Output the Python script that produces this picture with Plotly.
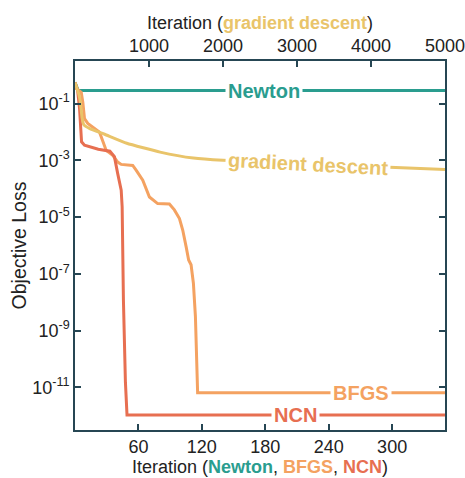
import plotly.graph_objects as go

# ---- data ----
newton_iter = [0, 3, 350]
newton_loss = [0.56, 0.286, 0.286]

bfgs_iter = [0, 1.1, 5.9, 7.4, 9.0, 12.1, 23.2, 26.3, 29.5, 35.7, 40.4, 43.7, 54.6, 57.8,
             64.1, 70.4, 78.2, 89.3, 94.0, 98.8, 101.9, 105.1, 107.5, 109.8, 112.0, 113.9,
             115.1, 116.0, 350]
bfgs_loss = [0.55, 0.34, 0.25, 0.112, 0.0295, 0.020, 9.8e-3, 5.0e-3, 2.24e-3, 1.5e-3, 8.7e-4,
             7.2e-4, 6.6e-4, 4.5e-4, 2.0e-4, 5.1e-5, 3.0e-5, 2.9e-5, 1.8e-5, 8.9e-6, 3.5e-6,
             9.1e-7, 3.1e-7, 2.1e-7, 4.7e-8, 3.2e-9, 2.1e-10, 6.5e-12, 6.5e-12]

ncn_iter = [0, 2.5, 4.3, 6.2, 9, 22, 33, 37.3, 40.4, 43.7, 44.6, 45.2, 45.8, 47.7, 49.2, 350]
ncn_loss = [0.55, 0.288, 0.066, 4.5e-3, 3.4e-3, 2.45e-3, 2.1e-3, 1.35e-3, 3.4e-4, 8.9e-5,
            2.3e-5, 3.2e-7, 1.2e-8, 1.5e-11, 1.07e-12, 1.07e-12]

gd_iter = [0, 25, 50, 75, 95, 120, 200, 400, 700, 1150, 1600, 2000, 2500, 3000, 3500,
           4000, 4500, 5000]
gd_loss = [0.55, 0.347, 0.224, 0.1, 0.0316, 0.0178, 0.0132, 8.3e-3, 4.0e-3, 1.95e-3,
           1.2e-3, 1.0e-3, 8.9e-4, 7.8e-4, 6.9e-4, 6.0e-4, 5.4e-4, 4.8e-4]

bottom_ticks = [60, 120, 180, 240, 300]
top_ticks = [1000, 2000, 3000, 4000, 5000]
y_tick_exps = [-1, -3, -5, -7, -9, -11]
y_tick_text = ["10<sup>%d</sup>" % e for e in y_tick_exps]

# ---- style ----
C_NEWTON = "#2a9d8f"
C_GD = "#e9c46a"
C_BFGS = "#f4a261"
C_NCN = "#e76f51"
C_AX = "#264653"
FONT = "Liberation Sans"
TXT = "#222222"

fig = go.Figure()
fig.add_trace(go.Scatter(x=gd_iter, y=gd_loss, xaxis="x2", yaxis="y", mode="lines",
                         line=dict(color=C_GD, width=3, shape="spline", smoothing=0.4)))
fig.add_trace(go.Scatter(x=newton_iter, y=newton_loss, mode="lines",
                         line=dict(color=C_NEWTON, width=3)))
fig.add_trace(go.Scatter(x=bfgs_iter, y=bfgs_loss, mode="lines",
                         line=dict(color=C_BFGS, width=3)))
fig.add_trace(go.Scatter(x=ncn_iter, y=ncn_loss, mode="lines",
                         line=dict(color=C_NCN, width=3)))

def label(text, x, y, color, xref="x", angle=0):
    fig.add_annotation(x=x, y=y, xref=xref, yref="y", text="<b>%s</b>" % text,
                       showarrow=False, textangle=angle, bgcolor="white", borderpad=2,
                       font=dict(family=FONT, size=20, color=color))

label("Newton", 178.6, -0.544, C_NEWTON)
label("gradient descent", 3143, -3.12, C_GD, xref="x2", angle=3)
label("BFGS", 270.2, -11.19, C_BFGS)
label("NCN", 208.8, -11.97, C_NCN)

axis_common = dict(showline=True, linecolor=C_AX, linewidth=1.5, ticks="inside",
                   ticklen=6, tickwidth=1.5, tickcolor=C_AX, showgrid=False,
                   zeroline=False, automargin=False, ticklabeloverflow="allow",
                   tickfont=dict(family=FONT, size=18, color=TXT))

fig.update_layout(
    width=465, height=478,
    margin=dict(l=75, r=20, t=61, b=48),
    paper_bgcolor="white", plot_bgcolor="white",
    showlegend=False,
    xaxis=dict(range=[0, 350], tickvals=bottom_ticks, side="bottom", anchor="y",
               title=dict(text="Iteration (<span style='color:%s'><b>Newton</b></span>, "
                               "<span style='color:%s'><b>BFGS</b></span>, "
                               "<span style='color:%s'><b>NCN</b></span>)" % (C_NEWTON, C_BFGS, C_NCN),
                          font=dict(family=FONT, size=18, color=TXT), standoff=2),
               **axis_common),
    xaxis2=dict(range=[0, 5000], tickvals=top_ticks, side="top", overlaying="x", anchor="y",
                title=dict(text="Iteration (<span style='color:%s'><b>gradient descent</b></span>)" % C_GD,
                           font=dict(family=FONT, size=18, color=TXT), standoff=2),
                **axis_common),
    yaxis=dict(type="log", range=[-12.5, 0.5], tickvals=[10.0 ** e for e in y_tick_exps],
               ticktext=y_tick_text, mirror="ticks",
               title=dict(text="Objective Loss", font=dict(family=FONT, size=19.5, color=TXT),
                          standoff=1),
               **axis_common),
)

fig.write_html("out.html")
